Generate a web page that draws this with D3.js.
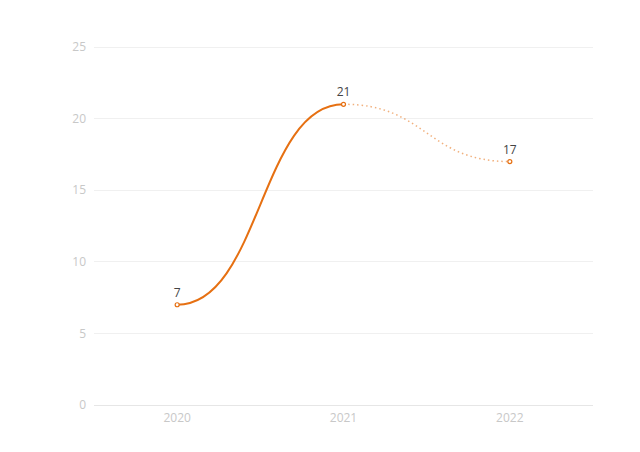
<!DOCTYPE html>
<html><head><meta charset="utf-8">
<script src="https://cdn.jsdelivr.net/npm/d3@7"></script>
<style>body{margin:0;background:#fff;}text{font-family:"Open Sans","Noto Sans",sans-serif;}</style>
</head><body>
<svg id="c" width="640" height="452"></svg>
<script>
const categories = ["2020", "2021", "2022"];
const values = [7, 21, 17];
const yTicks = [0, 5, 10, 15, 20, 25];
const solidUntil = 1; // index where the solid part ends

const svg = d3.select("#c");
const m = {l: 94, r: 47, t: 47, b: 47};
const W = 640, H = 452;
const x = d3.scaleBand().domain(categories).range([m.l, W - m.r]);
const y = d3.scaleLinear().domain([0, 25]).range([H - m.b, m.t]);
const cx = d => x(d) + x.bandwidth() / 2;

// grid
svg.append("g").selectAll("line").data(yTicks).join("line")
  .attr("x1", m.l).attr("x2", W - m.r)
  .attr("y1", d => y(d)).attr("y2", d => y(d))
  .attr("stroke", d => d === 0 ? "#e6e6e6" : "#f0f0f0").attr("stroke-width", 1)
  .attr("shape-rendering", "crispEdges");

svg.append("g").selectAll("text").data(yTicks).join("text")
  .attr("x", m.l - 8).attr("y", d => y(d)).attr("dy", "0.35em")
  .attr("text-anchor", "end").attr("font-size", 12).attr("fill", "#c8c8c8")
  .text(d => d);

svg.append("g").selectAll("text").data(categories).join("text")
  .attr("x", d => cx(d)).attr("y", y(0) + 13).attr("dy", "0.35em")
  .attr("text-anchor", "middle").attr("font-size", 12).attr("fill", "#c8c8c8")
  .text(d => d);

const pts = categories.map((c, i) => [cx(c), y(values[i])]);
const line = d3.line().curve(d3.curveBumpX);
const color = "#e67012";

svg.append("path").attr("d", line(pts.slice(solidUntil)))
  .attr("fill", "none").attr("stroke", color).attr("stroke-opacity", 0.55)
  .attr("stroke-width", 1.5).attr("stroke-dasharray", "1.5,3");
svg.append("path").attr("d", line(pts.slice(0, solidUntil + 1)))
  .attr("fill", "none").attr("stroke", color).attr("stroke-width", 2);

svg.append("g").selectAll("circle").data(pts).join("circle")
  .attr("cx", d => d[0]).attr("cy", d => d[1]).attr("r", 2)
  .attr("fill", "#fff").attr("stroke", color).attr("stroke-width", 1.2);

svg.append("g").selectAll("text").data(values).join("text")
  .attr("x", (d, i) => pts[i][0]).attr("y", (d, i) => pts[i][1] - 8)
  .attr("text-anchor", "middle").attr("font-size", 12).attr("fill", "#444")
  .text(d => d);
</script>
</body></html>
